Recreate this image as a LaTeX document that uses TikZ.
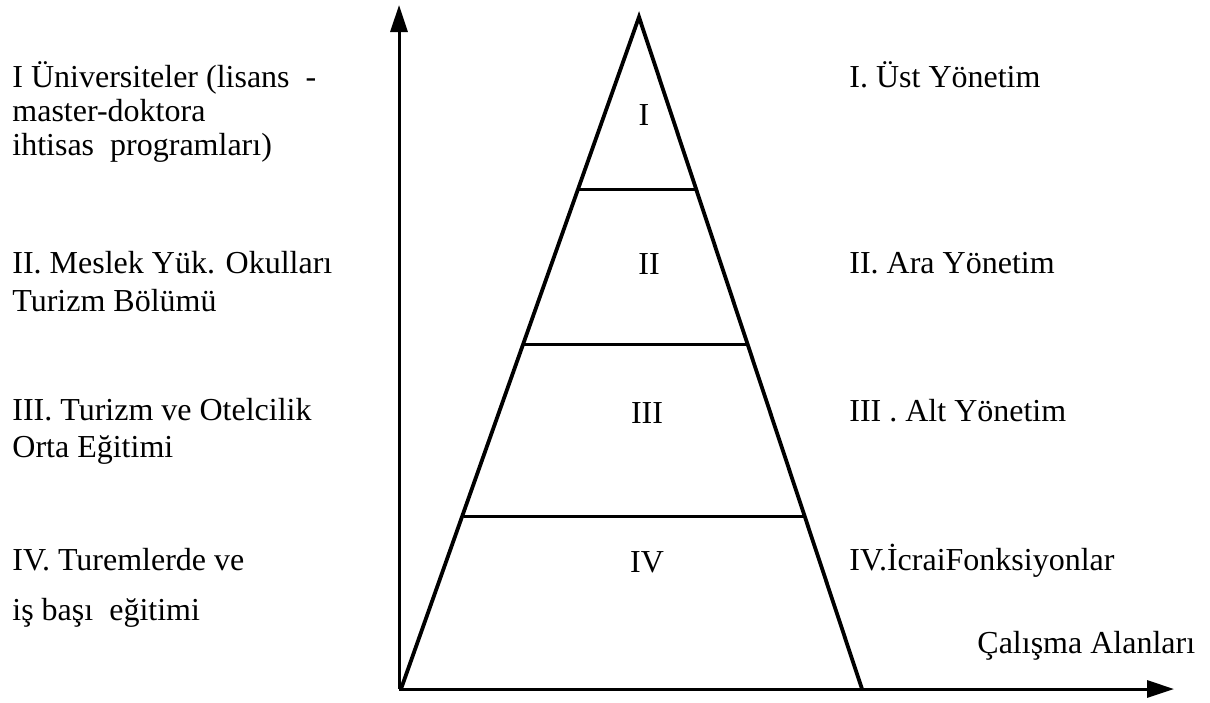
\documentclass[tikz,border=0pt]{standalone}
\usepackage{fontspec}
\setmainfont{Liberation Serif}
\usetikzlibrary{arrows.meta}
\begin{document}
\begin{tikzpicture}[x=0.5pt,y=-0.5pt,
  lbl/.style={anchor=base west,inner sep=0pt,font=\fontsize{16}{19}\selectfont},
  roman/.style={anchor=base,inner sep=0pt,font=\fontsize{16}{19}\selectfont},
  axisline/.style={line width=1.5pt,-{Triangle[length=13.5pt,width=8.5pt]}},
  pyramid/.style={line width=1.9pt,line join=miter},
  tier/.style={line width=1.5pt}]
\useasboundingbox (0,0) rectangle (1210,702);
% axes
\coordinate (O) at (399,689);
\coordinate (ytip) at (399,5);
\coordinate (xtip) at (1174,689);
\draw[axisline] (O) -- (ytip);
\draw[axisline] (O) -- (xtip);
% pyramid
\coordinate (apex) at (639,17);
\coordinate (bl) at (401,689);
\coordinate (br) at (862,689);
\draw[pyramid] (bl) -- (apex) -- (br);
\coordinate (t1l) at (579,189);
\coordinate (t1r) at (696,189);
\coordinate (t2l) at (524,344);
\coordinate (t2r) at (748,344);
\coordinate (t3l) at (464,516);
\coordinate (t3r) at (806,516);
\draw[tier] (t1l) -- (t1r);
\draw[tier] (t2l) -- (t2r);
\draw[tier] (t3l) -- (t3r);
% tier labels
\node[roman] (r1) at (644,125) {I};
\node[roman] (r2) at (649,274) {II};
\node[roman] (r3) at (647,423) {III};
\node[roman] (r4) at (647,572) {IV};
% left texts
\node[lbl] (l1a) at (12,87) {I Üniversiteler (lisans\ \ -};
\node[lbl] (l1b) at (12,121) {master-doktora};
\node[lbl] (l1c) at (12,155) {ihtisas\ \ programları)};
\node[lbl] (l2a) at (12,273) {II. Meslek Yük. Okulları};
\node[lbl] (l2b) at (12,311) {Turizm Bölümü};
\node[lbl] (l3a) at (12,420) {III. Turizm ve Otelcilik};
\node[lbl] (l3b) at (12,457) {Orta Eğitimi};
\node[lbl] (l4a) at (12,570) {IV. Turemlerde ve};
\node[lbl] (l4b) at (12,620) {iş başı\ \ eğitimi};
% right texts
\node[lbl] (p1) at (849,87) {I. Üst Yönetim};
\node[lbl] (p2) at (849,273) {II. Ara Yönetim};
\node[lbl] (p3) at (849,421) {III . Alt Yönetim};
\node[lbl] (p4) at (849,570) {IV.İcraiFonksiyonlar};
\node[lbl] (xlab) at (977,653) {Çalışma Alanları};
\end{tikzpicture}
\end{document}
